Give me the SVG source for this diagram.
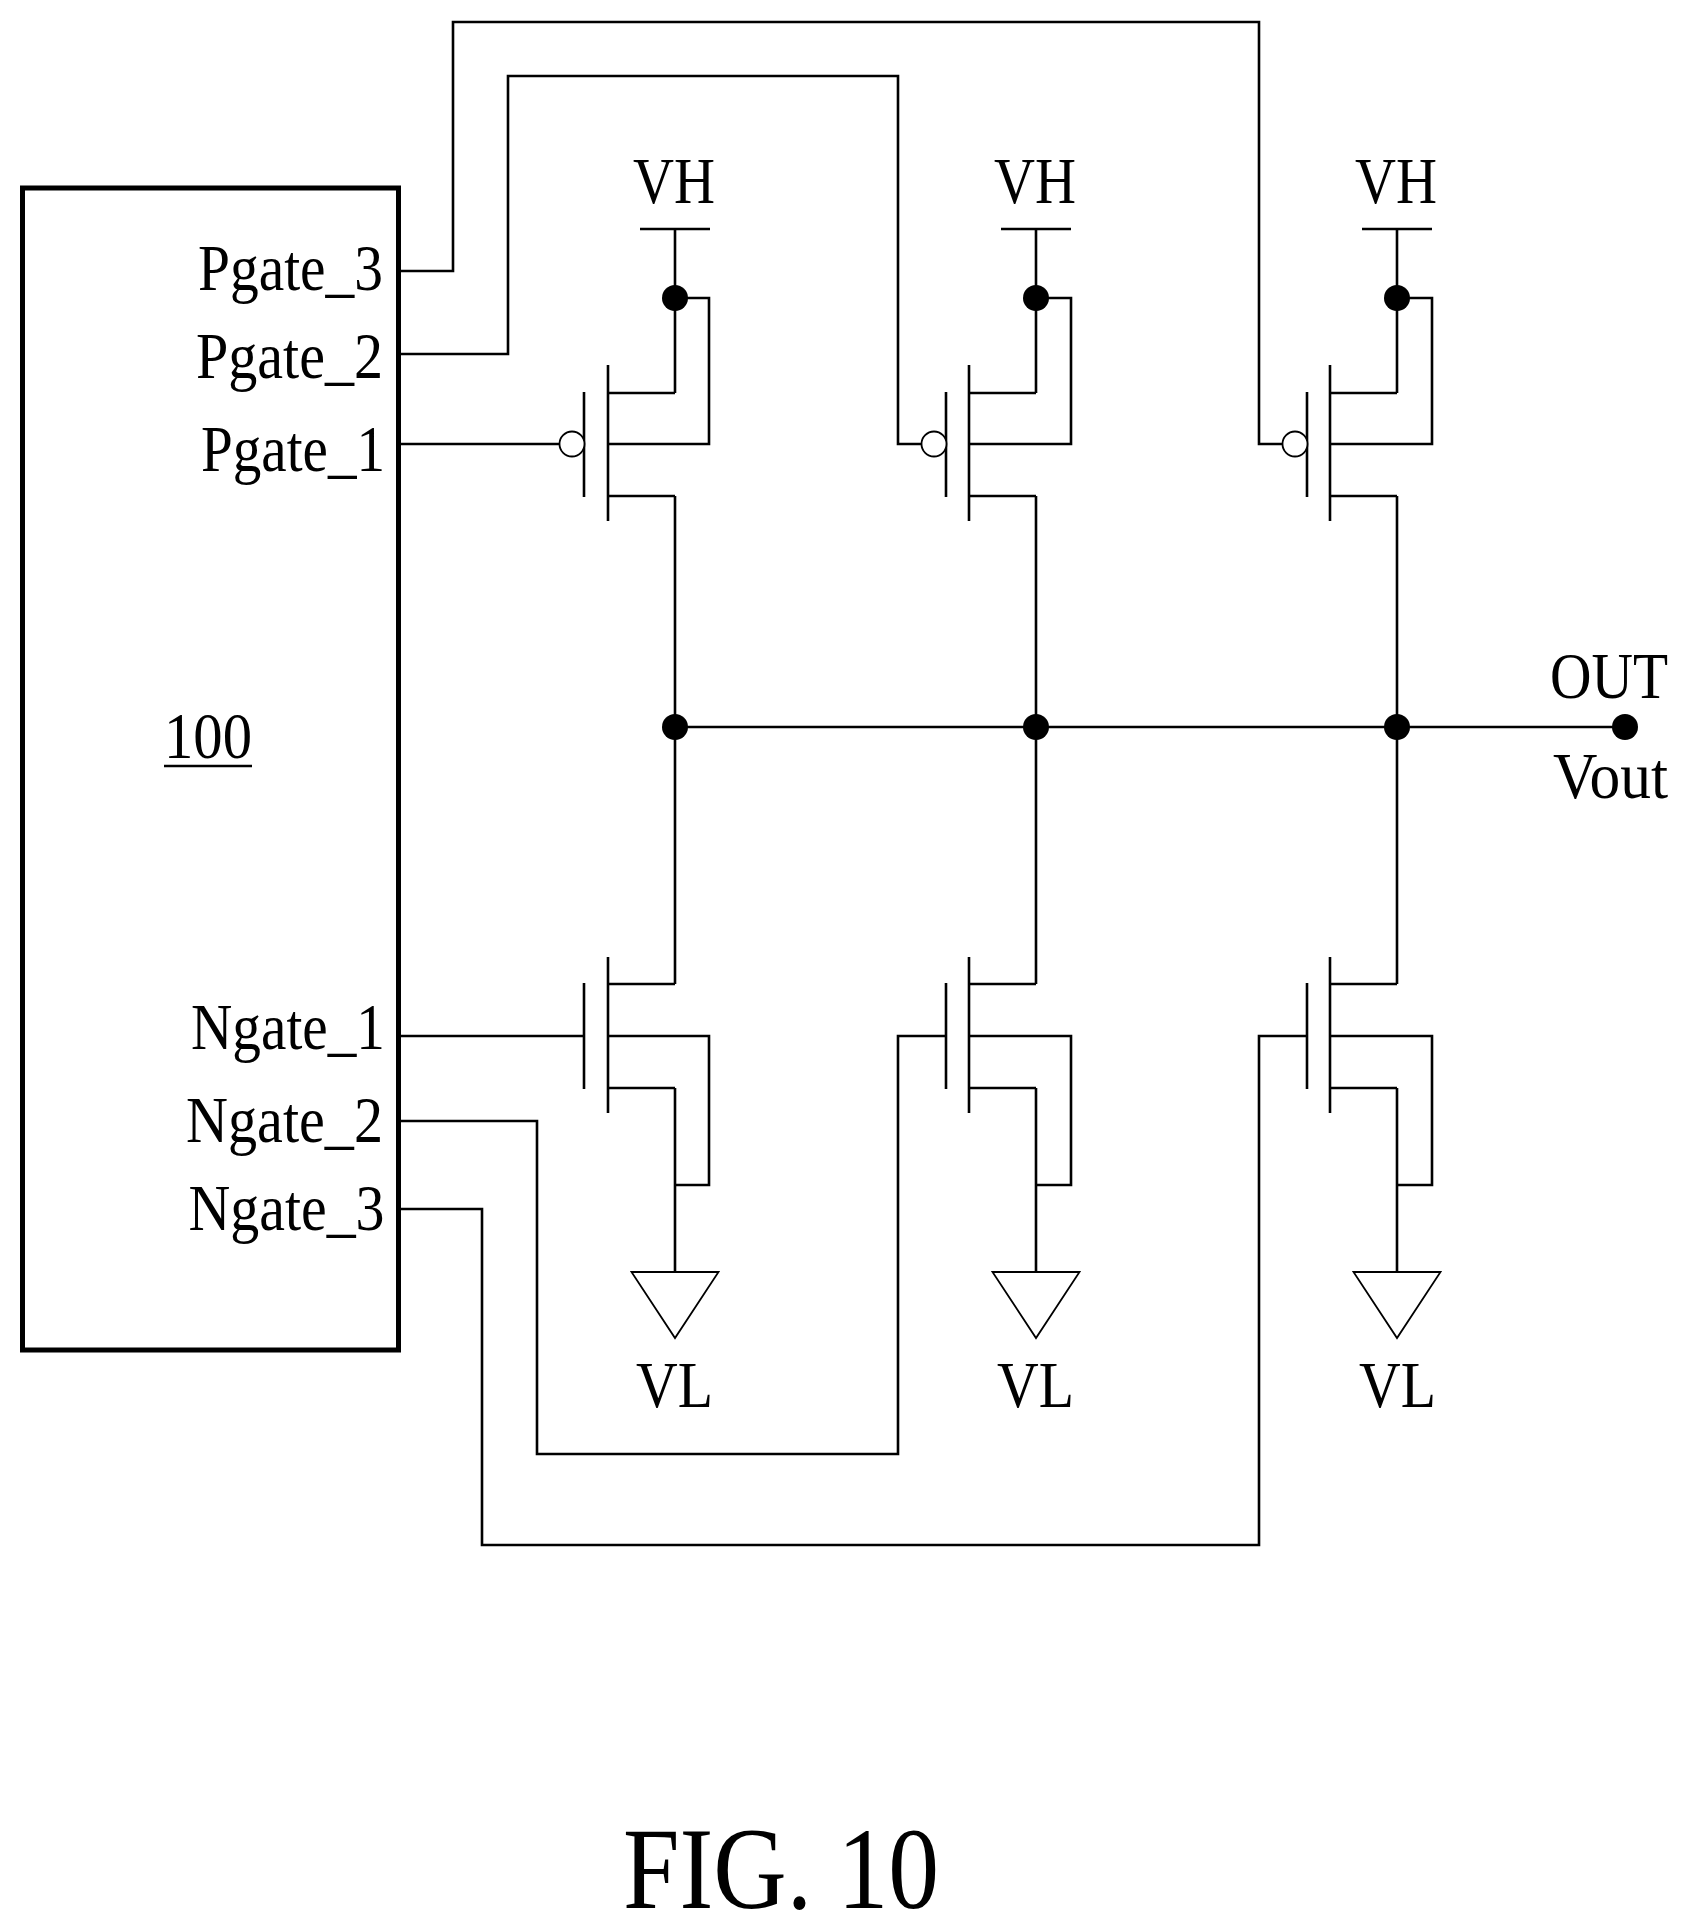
<svg xmlns="http://www.w3.org/2000/svg" xmlns:xlink="http://www.w3.org/1999/xlink" width="1688" height="1931" viewBox="0 0 1688 1931">
<style>
.w{fill:none;stroke:#000;stroke-width:2.6;stroke-linejoin:miter}
.d{fill:#000;stroke:none}
.b{fill:#fff;stroke:#000;stroke-width:1.8}
.block{fill:#fff;stroke:#000;stroke-width:5}
text{font-family:"Liberation Serif","Times New Roman",serif;fill:#000;font-size:66px}
.cap{font-size:116px}
</style>
<defs>
<g id="pmos"><path class="w" d="M-67 365V521M-67 393H0M-67 496H0"/></g>
<g id="nmos"><path class="w" d="M-67 957V1113M-67 984H0M-67 1088H0"/></g>
<g id="gnd"><path class="w" style="stroke-width:1.8" d="M-43.5 1272H43.5L0 1338Z"/></g>
</defs>
<rect width="1688" height="1931" fill="#fff"/>
<g id="connectors">
<path class="w" d="M398 271H453V22H1259V444H1283"/>
<path class="w" d="M398 354H508V76H898V444H922"/>
<path class="w" d="M398 444H560"/>
<path class="w" d="M398 1036H584"/>
<path class="w" d="M398 1121H537V1454H898V1036H946"/>
<path class="w" d="M398 1209H482V1545H1259V1036H1307"/>
<path class="w" d="M675 727H1625"/>
<path class="w" d="M640 229H710M675 229V393M675 298H709V444H608M675 496V984M608 1036H709V1185H675M675 1088V1272"/>
<path class="w" d="M1001 229H1071M1036 229V393M1036 298H1071V444H969M1036 496V984M969 1036H1071V1185H1036M1036 1088V1272"/>
<path class="w" d="M1362 229H1432M1397 229V393M1397 298H1432V444H1330M1397 496V984M1330 1036H1432V1185H1397M1397 1088V1272"/>
</g>
<g id="block-100">
<rect class="block" x="22.5" y="188" width="376" height="1162"/>
<text x="198" y="289.5" textLength="185" lengthAdjust="spacingAndGlyphs">Pgate_3</text>
<text x="196" y="378" textLength="187" lengthAdjust="spacingAndGlyphs">Pgate_2</text>
<text x="201" y="471" textLength="184" lengthAdjust="spacingAndGlyphs">Pgate_1</text>
<text x="191" y="1049" textLength="194" lengthAdjust="spacingAndGlyphs">Ngate_1</text>
<text x="186" y="1142" textLength="197" lengthAdjust="spacingAndGlyphs">Ngate_2</text>
<text x="188.5" y="1230" textLength="196" lengthAdjust="spacingAndGlyphs">Ngate_3</text>
<text x="164" y="758" textLength="88" lengthAdjust="spacingAndGlyphs">100</text>
<path class="w" d="M164 766H252"/>
</g>
<g id="pmos-1"><use xlink:href="#pmos" href="#pmos" x="675"/><path class="w" d="M584 392V497"/><circle class="b" cx="572" cy="444" r="12.5"/></g>
<g id="pmos-2"><use xlink:href="#pmos" href="#pmos" x="1036"/><path class="w" d="M946 392V497"/><circle class="b" cx="934" cy="444" r="12.5"/></g>
<g id="pmos-3"><use xlink:href="#pmos" href="#pmos" x="1397"/><path class="w" d="M1307 392V497"/><circle class="b" cx="1295" cy="444" r="12.5"/></g>
<g id="nmos-1"><use xlink:href="#nmos" href="#nmos" x="675"/><path class="w" d="M584 983V1089"/></g>
<g id="nmos-2"><use xlink:href="#nmos" href="#nmos" x="1036"/><path class="w" d="M946 983V1089"/></g>
<g id="nmos-3"><use xlink:href="#nmos" href="#nmos" x="1397"/><path class="w" d="M1307 983V1089"/></g>
<g id="vh-1"><circle class="d" cx="675" cy="298" r="13"/><text x="633" y="203" textLength="82" lengthAdjust="spacingAndGlyphs">VH</text></g>
<g id="vh-2"><circle class="d" cx="1036" cy="298" r="13"/><text x="994" y="203" textLength="82" lengthAdjust="spacingAndGlyphs">VH</text></g>
<g id="vh-3"><circle class="d" cx="1397" cy="298" r="13"/><text x="1355" y="203" textLength="82" lengthAdjust="spacingAndGlyphs">VH</text></g>
<g id="vl-1"><use xlink:href="#gnd" href="#gnd" x="675"/><text x="636" y="1407" textLength="77" lengthAdjust="spacingAndGlyphs">VL</text></g>
<g id="vl-2"><use xlink:href="#gnd" href="#gnd" x="1036"/><text x="997" y="1407" textLength="77" lengthAdjust="spacingAndGlyphs">VL</text></g>
<g id="vl-3"><use xlink:href="#gnd" href="#gnd" x="1397"/><text x="1359" y="1407" textLength="77" lengthAdjust="spacingAndGlyphs">VL</text></g>
<g id="junction-1"><circle class="d" cx="675" cy="727" r="13"/></g>
<g id="junction-2"><circle class="d" cx="1036" cy="727" r="13"/></g>
<g id="junction-3"><circle class="d" cx="1397" cy="727" r="13"/></g>
<g id="out"><circle class="d" cx="1625" cy="727" r="13"/>
<text x="1550" y="698" textLength="118" lengthAdjust="spacingAndGlyphs">OUT</text>
<text x="1553" y="798" textLength="115" lengthAdjust="spacingAndGlyphs">Vout</text></g>
<text id="caption" class="cap" x="623" y="1908" textLength="316" lengthAdjust="spacingAndGlyphs">FIG. 10</text>
</svg>
